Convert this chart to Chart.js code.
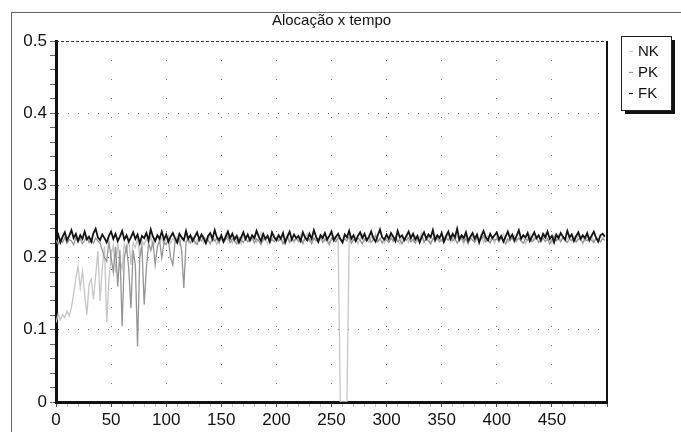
<!DOCTYPE html>
<html>
<head>
<meta charset="utf-8">
<script src="https://cdn.jsdelivr.net/npm/chart.js@4"></script>
<style>
  body { margin: 0; background: #fff; }
</style>
</head>
<body>
<canvas id="chart" width="681" height="432"></canvas>
<script>
// ================= DATA =================
const titulo = "Alocação x tempo";
const passo = 2; // um ponto a cada 2 unidades de tempo
const nomes = ["NK", "PK", "FK"];

const nk = [
  0.110,0.122,0.114,0.121,0.117,0.126,0.119,0.131,0.150,0.172,
  0.188,0.158,0.181,0.149,0.121,0.163,0.170,0.142,0.176,0.209,
  0.140,0.186,0.216,0.110,0.168,0.204,0.217,0.179,0.221,0.198,
  0.184,0.219,0.208,0.226,0.190,0.221,0.214,0.227,0.203,0.223,
  0.218,0.226,0.221,0.229,0.215,0.224,0.230,0.222,0.227,0.219,
  0.225,0.231,0.220,0.226,0.223,0.229,0.218,0.227,0.224,0.232,
  0.221,0.226,0.229,0.219,0.225,0.223,0.230,0.220,0.227,0.224,
  0.231,0.222,0.226,0.218,0.228,0.225,0.221,0.233,0.224,0.227,
  0.220,0.229,0.223,0.226,0.219,0.232,0.225,0.222,0.228,0.224,
  0.230,0.221,0.226,0.234,0.223,0.227,0.219,0.228,0.225,0.231,
  0.222,0.226,0.229,0.220,0.225,0.232,0.223,0.227,0.221,0.228,
  0.224,0.230,0.219,0.226,0.233,0.222,0.227,0.225,0.229,0.220,
  0.226,0.231,0.223,0.228,0.221,0.225,0.230,0.224,0.227,0.000,
  0.000,0.000,0.000,0.221,0.228,0.224,0.230,0.219,0.226,0.232,
  0.223,0.227,0.221,0.229,0.225,0.233,0.222,0.226,0.230,0.220,
  0.227,0.224,0.231,0.222,0.228,0.225,0.219,0.229,0.226,0.232,
  0.221,0.227,0.224,0.230,0.223,0.228,0.235,0.222,0.226,0.229,
  0.220,0.225,0.231,0.224,0.227,0.222,0.229,0.226,0.233,0.221,
  0.228,0.224,0.230,0.223,0.226,0.219,0.231,0.227,0.224,0.229,
  0.222,0.228,0.225,0.232,0.221,0.227,0.230,0.224,0.226,0.220,
  0.229,0.223,0.227,0.233,0.225,0.221,0.228,0.226,0.231,0.222,
  0.227,0.224,0.230,0.219,0.226,0.232,0.223,0.228,0.225,0.229,
  0.221,0.227,0.233,0.224,0.226,0.220,0.229,0.225,0.231,0.223,
  0.228,0.222,0.226,0.230,0.224,0.227,0.221,0.232,0.225,0.228,
  0.223,0.229,0.226,0.231,0.222,0.227,0.224,0.230,0.226,0.229
];

const pk = [
  0.224,0.219,0.226,0.221,0.228,0.220,0.225,0.223,0.218,0.227,
  0.222,0.226,0.219,0.224,0.229,0.221,0.225,0.220,0.227,0.223,
  0.220,0.210,0.200,0.195,0.222,0.200,0.180,0.215,0.160,0.210,
  0.105,0.200,0.215,0.185,0.130,0.210,0.190,0.077,0.200,0.215,
  0.135,0.185,0.220,0.210,0.222,0.190,0.215,0.224,0.200,0.221,
  0.218,0.225,0.200,0.190,0.222,0.220,0.226,0.210,0.158,0.222,
  0.225,0.220,0.227,0.222,0.218,0.226,0.223,0.229,0.221,0.224,
  0.219,0.227,0.223,0.226,0.220,0.228,0.222,0.225,0.230,0.221,
  0.226,0.223,0.219,0.228,0.224,0.221,0.227,0.222,0.225,0.229,
  0.220,0.226,0.223,0.218,0.227,0.224,0.230,0.221,0.225,0.222,
  0.228,0.223,0.226,0.219,0.224,0.229,0.221,0.226,0.223,0.227,
  0.222,0.225,0.220,0.228,0.224,0.226,0.219,0.227,0.223,0.225,
  0.229,0.221,0.226,0.223,0.218,0.227,0.224,0.222,0.228,0.225,
  0.221,0.226,0.223,0.229,0.220,0.225,0.222,0.227,0.224,0.219,
  0.226,0.223,0.228,0.221,0.225,0.230,0.222,0.226,0.220,0.227,
  0.224,0.221,0.227,0.223,0.229,0.222,0.225,0.219,0.226,0.224,
  0.228,0.222,0.225,0.220,0.227,0.224,0.230,0.221,0.226,0.223,
  0.219,0.226,0.224,0.228,0.222,0.225,0.221,0.227,0.224,0.230,
  0.223,0.226,0.220,0.225,0.228,0.222,0.226,0.219,0.227,0.224,
  0.221,0.228,0.223,0.226,0.230,0.222,0.225,0.220,0.227,0.224,
  0.226,0.222,0.229,0.224,0.219,0.226,0.223,0.228,0.221,0.225,
  0.227,0.223,0.220,0.226,0.224,0.229,0.222,0.225,0.228,0.221,
  0.224,0.227,0.222,0.226,0.219,0.225,0.230,0.223,0.226,0.222,
  0.228,0.224,0.221,0.226,0.223,0.229,0.222,0.225,0.227,0.220,
  0.226,0.223,0.228,0.224,0.221,0.227,0.225,0.222,0.226,0.224
];

const fk = [
  0.226,0.232,0.221,0.229,0.235,0.224,0.230,0.238,0.227,0.233,
  0.223,0.231,0.226,0.236,0.225,0.229,0.222,0.234,0.240,0.228,
  0.224,0.232,0.227,0.221,0.230,0.236,0.226,0.233,0.223,0.229,
  0.237,0.225,0.231,0.222,0.228,0.235,0.226,0.232,0.220,0.230,
  0.227,0.234,0.224,0.239,0.229,0.223,0.231,0.226,0.236,0.225,
  0.232,0.222,0.229,0.234,0.227,0.221,0.233,0.228,0.224,0.237,
  0.226,0.231,0.223,0.229,0.235,0.225,0.232,0.227,0.220,0.230,
  0.234,0.226,0.238,0.228,0.224,0.231,0.222,0.229,0.236,0.227,
  0.233,0.225,0.230,0.221,0.228,0.235,0.226,0.232,0.224,0.231,
  0.227,0.237,0.229,0.223,0.233,0.226,0.230,0.222,0.235,0.228,
  0.224,0.231,0.226,0.234,0.221,0.229,0.236,0.225,0.232,0.227,
  0.230,0.223,0.235,0.228,0.224,0.233,0.226,0.238,0.229,0.222,
  0.231,0.227,0.234,0.225,0.230,0.236,0.224,0.229,0.233,0.226,
  0.221,0.232,0.228,0.237,0.226,0.231,0.223,0.230,0.235,0.227,
  0.233,0.224,0.229,0.236,0.227,0.222,0.231,0.239,0.228,0.225,
  0.232,0.226,0.234,0.229,0.223,0.237,0.228,0.231,0.224,0.230,
  0.236,0.227,0.233,0.225,0.230,0.221,0.229,0.235,0.226,0.232,
  0.228,0.238,0.224,0.231,0.227,0.234,0.222,0.230,0.236,0.226,
  0.233,0.228,0.240,0.225,0.231,0.227,0.235,0.223,0.229,0.234,
  0.226,0.232,0.221,0.230,0.237,0.228,0.224,0.233,0.227,0.231,
  0.235,0.225,0.230,0.222,0.229,0.236,0.227,0.232,0.224,0.230,
  0.238,0.226,0.231,0.228,0.234,0.223,0.229,0.235,0.227,0.231,
  0.224,0.233,0.228,0.236,0.226,0.230,0.221,0.232,0.227,0.234,
  0.229,0.225,0.237,0.228,0.232,0.223,0.230,0.235,0.226,0.231,
  0.227,0.234,0.224,0.230,0.236,0.228,0.222,0.231,0.233,0.229
];

const cores = ["#c6c6c6", "#959595", "#141414"];
const yTicks = [0, 0.1, 0.2, 0.3, 0.4, 0.5];
const xTicks = [0, 50, 100, 150, 200, 250, 300, 350, 400, 450];

// ================= HELPERS =================
const FONT = "'Liberation Sans', Arial, sans-serif";

function pontos(serie){
    return serie.map((v, i) => ({ x: i * passo, y: v }));
}

function isMajorY(v){
    return yTicks.some(t => Math.abs(t - v) < 1e-6);
}

// ================= PLUGIN (titulo, moldura, bordas, legenda) =================
const molduraPlugin = {
    id: "moldura",
    beforeDraw(chart){
        const ctx = chart.ctx;
        const a = chart.chartArea;
        ctx.save();
        ctx.strokeStyle = "#666";
        ctx.lineWidth = 1;
        ctx.strokeRect(11.5, 12.5, 720, 500);

        // titulo centrado sobre a area do grafico
        ctx.fillStyle = "#111";
        ctx.font = "15px " + FONT;
        ctx.textAlign = "center";
        ctx.textBaseline = "middle";
        ctx.fillText(titulo, (a.left + a.right) / 2, 21);
        ctx.restore();
    },
    afterDatasetsDraw(chart){
        const ctx = chart.ctx;
        const a = chart.chartArea;
        ctx.save();
        // borda superior tracejada
        ctx.strokeStyle = "#333";
        ctx.lineWidth = 1;
        ctx.setLineDash([3, 2]);
        ctx.beginPath();
        ctx.moveTo(a.left, a.top + 0.5);
        ctx.lineTo(a.right, a.top + 0.5);
        ctx.stroke();
        // borda direita
        ctx.setLineDash([]);
        ctx.strokeStyle = "#111";
        ctx.lineWidth = 2;
        ctx.beginPath();
        ctx.moveTo(a.right, a.top);
        ctx.lineTo(a.right, a.bottom);
        ctx.stroke();
        ctx.restore();
    },
    afterDraw(chart){
        const ctx = chart.ctx;
        const bx = 621, by = 36, bw = 50, bh = 74;
        ctx.save();
        ctx.fillStyle = "#111";
        ctx.fillRect(bx + 4, by + 4, bw, bh);
        ctx.fillStyle = "#fff";
        ctx.fillRect(bx, by, bw, bh);
        ctx.strokeStyle = "#222";
        ctx.lineWidth = 1;
        ctx.strokeRect(bx + 0.5, by + 0.5, bw, bh);

        ctx.font = "15px " + FONT;
        ctx.textBaseline = "middle";
        chart.data.datasets.forEach((ds, i) => {
            const y = by + 15 + i * 21;
            ctx.strokeStyle = ds.borderColor;
            ctx.lineWidth = 1.2;
            ctx.beginPath();
            ctx.moveTo(bx + 8, y + 0.5);
            ctx.lineTo(bx + 12, y + 0.5);
            ctx.stroke();
            ctx.fillStyle = "#111";
            ctx.fillText(ds.label, bx + 17, y + 1);
        });
        ctx.restore();
    }
};

// ================= CHART =================
const ctx = document.getElementById("chart").getContext("2d");

const chart = new Chart(ctx, {
    type: "line",
    data: {
        datasets: [
            { label: nomes[0], data: pontos(nk), borderColor: cores[0], borderWidth: 1.3, order: 3 },
            { label: nomes[1], data: pontos(pk), borderColor: cores[1], borderWidth: 1.3, order: 2 },
            { label: nomes[2], data: pontos(fk), borderColor: cores[2], borderWidth: 1.8, order: 1 }
        ]
    },
    options: {
        responsive: false,
        animation: false,
        events: [],
        layout: { padding: { left: 0, right: 74, top: 41, bottom: 0 } },
        elements: { point: { radius: 0 }, line: { tension: 0 } },
        plugins: {
            legend: { display: false },
            tooltip: { enabled: false },
            title: { display: false, text: titulo }
        },
        scales: {
            x: {
                type: "linear",
                min: 0,
                max: 500,
                afterFit(scale){ scale.height = 30; },
                border: { display: true, color: "#111", width: 3, dash: [1, 18] },
                grid: {
                    color: c => (c.tick && c.tick.value % 50 === 0 && c.tick.value > 0 && c.tick.value < 500) ? "#777" : "transparent",
                    tickColor: c => (c.tick && c.tick.value % 50 === 0) ? "#555" : "rgba(0,0,0,0.25)",
                    tickLength: 5,
                    lineWidth: 1
                },
                ticks: {
                    stepSize: 10,
                    autoSkip: false,
                    maxRotation: 0,
                    padding: 3,
                    color: "#111",
                    font: { family: FONT, size: 17 },
                    callback: v => xTicks.includes(v) ? String(v) : ""
                }
            },
            y: {
                min: 0,
                max: 0.5,
                afterFit(scale){ scale.width = 56; },
                border: { display: true, color: "#111", width: 3, dash: [1, 9] },
                grid: {
                    color: c => (c.tick && isMajorY(c.tick.value) && c.tick.value > 0.001 && c.tick.value < 0.499) ? "#777" : "transparent",
                    tickColor: "#666",
                    tickLength: 6,
                    lineWidth: 1
                },
                ticks: {
                    stepSize: 0.02,
                    autoSkip: false,
                    padding: 3,
                    color: "#111",
                    font: { family: FONT, size: 17 },
                    callback: v => isMajorY(v) ? (Math.abs(v) < 1e-6 ? "0" : v.toFixed(1)) : ""
                }
            }
        }
    },
    plugins: [molduraPlugin]
});
</script>
</body>
</html>
